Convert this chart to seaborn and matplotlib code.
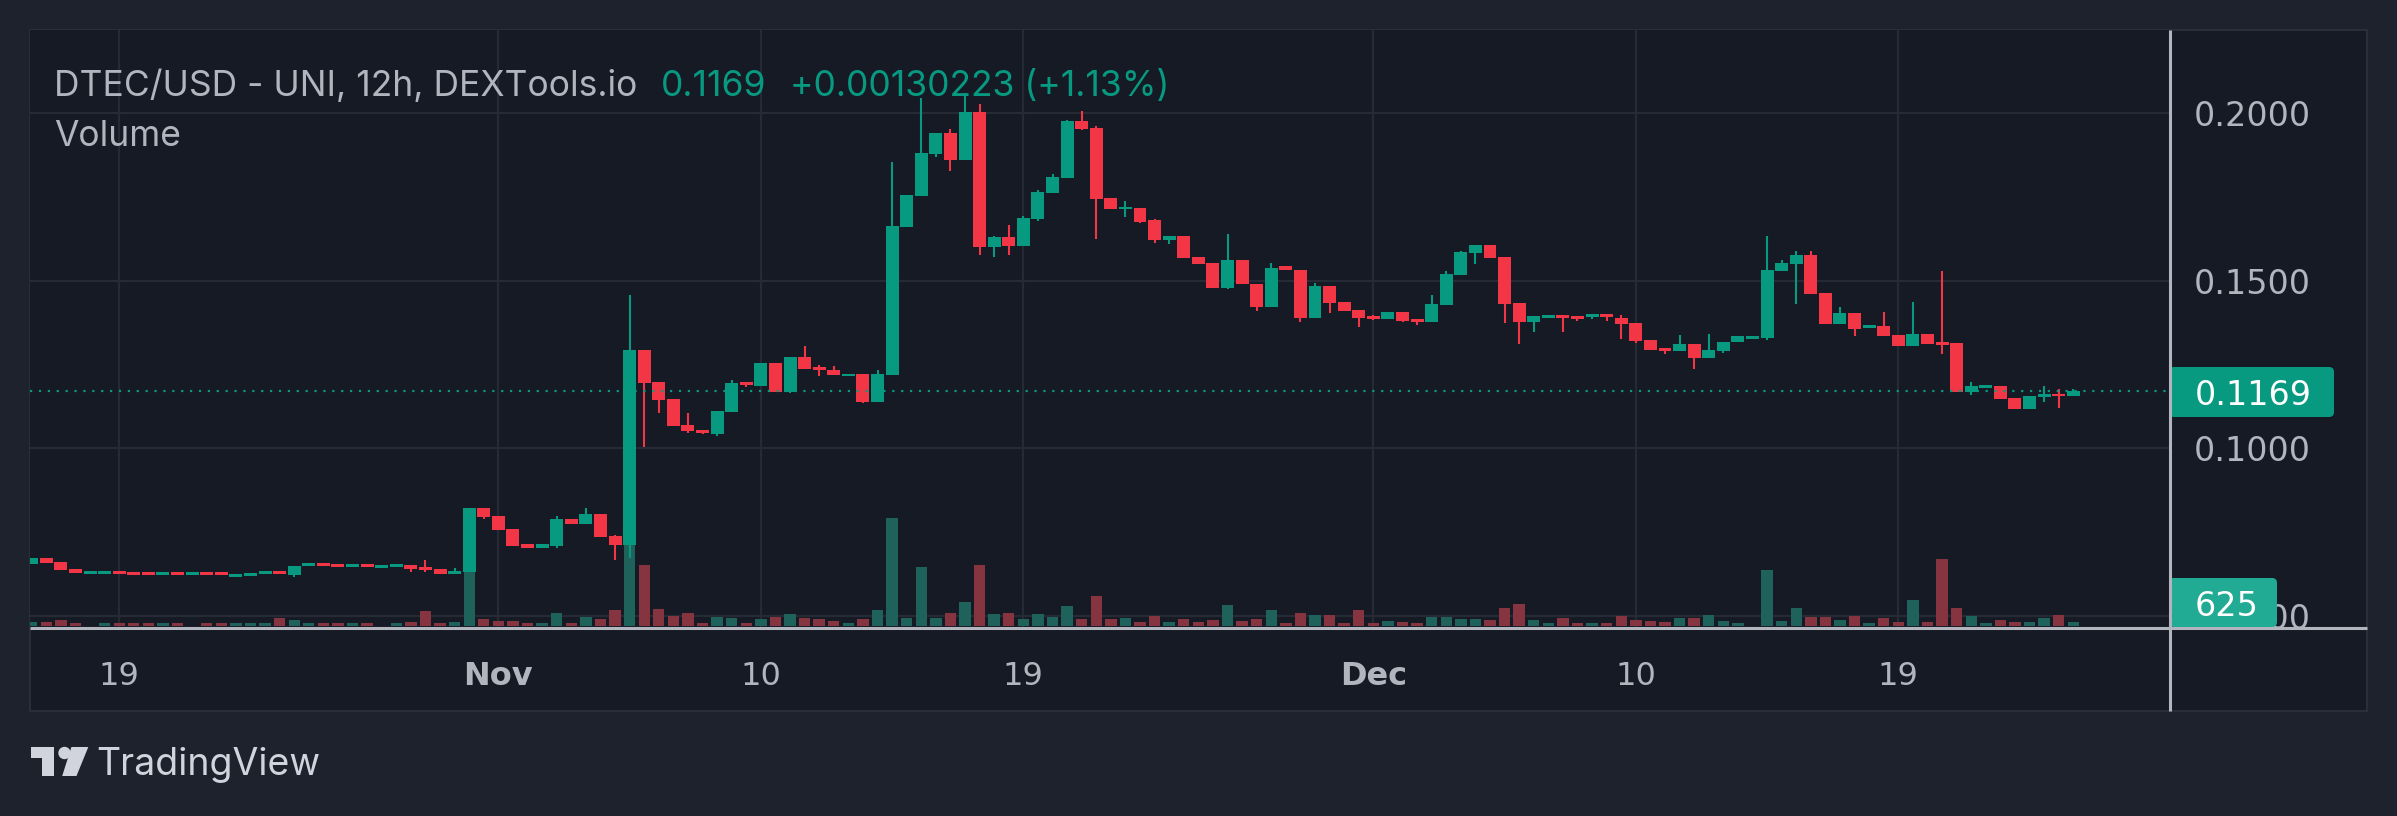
import numpy as np
import pandas as pd
import matplotlib
matplotlib.use("Agg")
import matplotlib.pyplot as plt
import matplotlib.patches as mpatches
import seaborn as sns

# ---------------- data (12h candles, DTEC/USD) ----------------
start = pd.Timestamp("2023-10-16 00:00")
opens = [0.0654, 0.0672, 0.0660, 0.0639, 0.0624, 0.0625, 0.0633, 0.0630, 0.0630, 0.0621,
         0.0630, 0.0621, 0.0630, 0.0630, 0.0615, 0.0618, 0.0624, 0.0633, 0.0621, 0.0648,
         0.0657, 0.0654, 0.0645, 0.0654, 0.0642, 0.0645, 0.0651, 0.0645, 0.0638, 0.0624,
         0.0631, 0.0821, 0.0797, 0.0758, 0.0712, 0.0703, 0.0706, 0.0787, 0.0773, 0.0803,
         0.0737, 0.0710, 0.1292, 0.1196, 0.1145, 0.1070, 0.1055, 0.1041, 0.1106, 0.1196,
         0.1185, 0.1253, 0.1168, 0.1271, 0.1241, 0.1233, 0.1215, 0.1220, 0.1136, 0.1217,
         0.1660, 0.1752, 0.1878, 0.1941, 0.1860, 0.2004, 0.1600, 0.1631, 0.1603, 0.1683,
         0.1761, 0.1806, 0.1977, 0.1956, 0.1745, 0.1712, 0.1715, 0.1680, 0.1621, 0.1634,
         0.1569, 0.1553, 0.1478, 0.1560, 0.1490, 0.1421, 0.1542, 0.1532, 0.1388, 0.1485,
         0.1436, 0.1412, 0.1394, 0.1386, 0.1407, 0.1386, 0.1376, 0.1428, 0.1517, 0.1581,
         0.1605, 0.1569, 0.1433, 0.1376, 0.1389, 0.1397, 0.1394, 0.1391, 0.1400, 0.1388,
         0.1373, 0.1322, 0.1298, 0.1289, 0.1310, 0.1268, 0.1289, 0.1315, 0.1326, 0.1329,
         0.1529, 0.1550, 0.1577, 0.1464, 0.1370, 0.1404, 0.1358, 0.1364, 0.1337, 0.1304,
         0.1340, 0.1315, 0.1313, 0.1166, 0.1178, 0.1184, 0.1148, 0.1115, 0.1152, 0.1162,
         0.1156]
highs = [0.0672, 0.0672, 0.0660, 0.0639, 0.0633, 0.0633, 0.0633, 0.0630, 0.0630, 0.0630,
         0.0630, 0.0630, 0.0630, 0.0630, 0.0624, 0.0627, 0.0633, 0.0633, 0.0648, 0.0657,
         0.0657, 0.0654, 0.0654, 0.0654, 0.0651, 0.0654, 0.0651, 0.0666, 0.0638, 0.0641,
         0.0821, 0.0821, 0.0797, 0.0758, 0.0712, 0.0712, 0.0797, 0.0787, 0.0821, 0.0803,
         0.0740, 0.1457, 0.1292, 0.1196, 0.1145, 0.1105, 0.1055, 0.1109, 0.1202, 0.1196,
         0.1253, 0.1253, 0.1271, 0.1305, 0.1247, 0.1245, 0.1222, 0.1220, 0.1232, 0.1854,
         0.1754, 0.2046, 0.1941, 0.1953, 0.2061, 0.2027, 0.1634, 0.1665, 0.1694, 0.1770,
         0.1818, 0.1980, 0.2007, 0.1962, 0.1745, 0.1737, 0.1715, 0.1684, 0.1634, 0.1634,
         0.1569, 0.1553, 0.1638, 0.1560, 0.1490, 0.1553, 0.1542, 0.1532, 0.1493, 0.1485,
         0.1436, 0.1412, 0.1397, 0.1407, 0.1407, 0.1386, 0.1457, 0.1527, 0.1587, 0.1605,
         0.1605, 0.1569, 0.1433, 0.1394, 0.1397, 0.1397, 0.1394, 0.1400, 0.1400, 0.1397,
         0.1373, 0.1322, 0.1298, 0.1338, 0.1310, 0.1341, 0.1317, 0.1333, 0.1334, 0.1634,
         0.1560, 0.1587, 0.1587, 0.1464, 0.1421, 0.1404, 0.1366, 0.1406, 0.1337, 0.1436,
         0.1340, 0.1529, 0.1313, 0.1198, 0.1187, 0.1184, 0.1148, 0.1154, 0.1184, 0.1177,
         0.1177]
lows = [0.0654, 0.0657, 0.0636, 0.0627, 0.0624, 0.0625, 0.0624, 0.0621, 0.0621, 0.0621,
        0.0621, 0.0621, 0.0621, 0.0621, 0.0615, 0.0618, 0.0624, 0.0624, 0.0615, 0.0648,
        0.0648, 0.0645, 0.0645, 0.0645, 0.0642, 0.0645, 0.0630, 0.0630, 0.0624, 0.0624,
        0.0631, 0.0788, 0.0754, 0.0706, 0.0703, 0.0703, 0.0703, 0.0773, 0.0773, 0.0734,
        0.0665, 0.0671, 0.1002, 0.1104, 0.1067, 0.1045, 0.1041, 0.1035, 0.1106, 0.1182,
        0.1185, 0.1168, 0.1164, 0.1236, 0.1215, 0.1218, 0.1215, 0.1133, 0.1136, 0.1217,
        0.1660, 0.1752, 0.1870, 0.1827, 0.1860, 0.1577, 0.1571, 0.1577, 0.1603, 0.1678,
        0.1761, 0.1806, 0.1949, 0.1623, 0.1712, 0.1689, 0.1671, 0.1613, 0.1608, 0.1566,
        0.1550, 0.1478, 0.1475, 0.1489, 0.1409, 0.1421, 0.1532, 0.1376, 0.1388, 0.1404,
        0.1409, 0.1361, 0.1383, 0.1386, 0.1376, 0.1368, 0.1376, 0.1428, 0.1517, 0.1548,
        0.1566, 0.1373, 0.1310, 0.1346, 0.1389, 0.1346, 0.1379, 0.1386, 0.1379, 0.1325,
        0.1313, 0.1292, 0.1280, 0.1289, 0.1235, 0.1268, 0.1283, 0.1315, 0.1326, 0.1322,
        0.1529, 0.1431, 0.1460, 0.1370, 0.1370, 0.1334, 0.1358, 0.1334, 0.1304, 0.1304,
        0.1310, 0.1280, 0.1166, 0.1157, 0.1178, 0.1145, 0.1115, 0.1115, 0.1138, 0.1120,
        0.1156]
closes = [0.0672, 0.0657, 0.0636, 0.0627, 0.0633, 0.0633, 0.0624, 0.0621, 0.0621, 0.0630,
          0.0621, 0.0630, 0.0621, 0.0621, 0.0624, 0.0627, 0.0633, 0.0624, 0.0648, 0.0657,
          0.0648, 0.0645, 0.0654, 0.0645, 0.0651, 0.0654, 0.0639, 0.0636, 0.0624, 0.0633,
          0.0821, 0.0793, 0.0754, 0.0706, 0.0703, 0.0712, 0.0787, 0.0773, 0.0803, 0.0734,
          0.0710, 0.1292, 0.1194, 0.1143, 0.1067, 0.1050, 0.1046, 0.1109, 0.1193, 0.1188,
          0.1253, 0.1168, 0.1271, 0.1236, 0.1233, 0.1218, 0.1222, 0.1136, 0.1220, 0.1662,
          0.1754, 0.1881, 0.1941, 0.1860, 0.2004, 0.1600, 0.1631, 0.1603, 0.1686, 0.1764,
          0.1809, 0.1977, 0.1953, 0.1743, 0.1712, 0.1718, 0.1676, 0.1620, 0.1634, 0.1566,
          0.1550, 0.1478, 0.1560, 0.1489, 0.1421, 0.1538, 0.1532, 0.1388, 0.1485, 0.1433,
          0.1409, 0.1388, 0.1386, 0.1407, 0.1379, 0.1377, 0.1430, 0.1520, 0.1584, 0.1605,
          0.1566, 0.1430, 0.1376, 0.1394, 0.1397, 0.1389, 0.1386, 0.1400, 0.1391, 0.1370,
          0.1319, 0.1292, 0.1289, 0.1310, 0.1268, 0.1292, 0.1317, 0.1333, 0.1334, 0.1532,
          0.1553, 0.1577, 0.1460, 0.1370, 0.1404, 0.1355, 0.1366, 0.1334, 0.1304, 0.1340,
          0.1310, 0.1307, 0.1166, 0.1184, 0.1187, 0.1145, 0.1115, 0.1154, 0.1160, 0.1156,
          0.1169]
volumes = [600, 600, 900, 450, 0, 450, 450, 450, 450, 450,
           450, 0, 450, 450, 450, 450, 450, 1200, 900, 450,
           450, 450, 450, 450, 0, 450, 600, 2250, 480, 625,
           8400, 1050, 800, 800, 480, 480, 1950, 480, 1350, 1050,
           2400, 12750, 9150, 2550, 1500, 1950, 480, 1350, 1200, 480,
           1050, 1350, 1800, 1200, 1050, 800, 480, 1050, 2400, 16200,
           1200, 8850, 1200, 1950, 3600, 9150, 1800, 1950, 1050, 1800,
           1350, 3000, 1050, 4500, 1050, 1200, 625, 1500, 625, 1050,
           625, 900, 3150, 800, 1050, 2400, 480, 1950, 1650, 1650,
           480, 2400, 480, 800, 625, 480, 1350, 1350, 1050, 1050,
           900, 2700, 3300, 900, 480, 1200, 480, 480, 480, 1500,
           900, 800, 625, 1200, 1200, 1650, 800, 480, 0, 8400,
           800, 2700, 1350, 1350, 900, 1500, 480, 1200, 625, 3900,
           625, 10050, 2700, 1500, 480, 900, 625, 625, 1200, 1650,
           625]

tick_dates = ["2023-10-19", "2023-11-01", "2023-11-10", "2023-11-19",
              "2023-12-01", "2023-12-10", "2023-12-19"]
tick_labels = ["19", "Nov", "10", "19", "Dec", "10", "19"]
price_ticks = [0.05, 0.10, 0.15, 0.20]
price_tick_labels = ["0.0500", "0.1000", "0.1500", "0.2000"]

title_text = "DTEC/USD - UNI, 12h, DEXTools.io"
last_price_text = "0.1169"
change_text = "+0.00130223 (+1.13%)"
last_price = 0.1169
last_volume_text = "625"

# ---------------- style ----------------
BG_OUT = "#1e222d"
BG_IN = "#161a25"
GRID = "#262a35"
TXT = "#b2b5be"
UP = "#089981"
DOWN = "#f23645"
VOL_UP = "#1e625b"
VOL_DOWN = "#863440"
AXLINE = "#b2b5be"
HEAD_FONT = ["Inter", "DejaVu Sans"]

sns.set_theme(style="dark")
plt.rcParams["font.family"] = ["DejaVu Sans"]

W, H = 2397, 816
fig = plt.figure(figsize=(W / 100, H / 100), dpi=100, facecolor=BG_OUT)


def frac_rect(x0, y0, x1, y1):
    return [x0 / W, 1 - y1 / H, (x1 - x0) / W, (y1 - y0) / H]


# background chart box
axb = fig.add_axes([0, 0, 1, 1], zorder=-5)
axb.set_xlim(0, W)
axb.set_ylim(H, 0)
axb.set_axis_off()
axb.add_patch(mpatches.Rectangle((30, 30), 2337, 681, facecolor=BG_IN,
                                 edgecolor="#2a2e39", lw=1.5))

PANE = frac_rect(30, 30, 2170, 628)
axg = fig.add_axes(PANE, zorder=0)
axv = fig.add_axes(PANE, zorder=1, sharex=axg)
ax = fig.add_axes(PANE, zorder=2, sharex=axg, sharey=axg)

times = start + pd.to_timedelta(np.arange(len(opens)) * 12, unit="h")
xs = ((times - start) / pd.Timedelta(hours=12)).to_numpy(dtype=float)
o = np.array(opens)
c = np.array(closes)
h = np.array(highs)
l = np.array(lows)
up = c >= o

# grid axes
axg.set_facecolor(BG_IN)
for s in axg.spines.values():
    s.set_visible(False)
tick_x = ((pd.to_datetime(tick_dates) - start) / pd.Timedelta(hours=12)).to_numpy(dtype=float)
ax.set_xticks(tick_x, labels=tick_labels)
ax.set_yticks(price_ticks, labels=price_tick_labels)
axg.grid(True, color=GRID, lw=1.6)
axg.tick_params(axis="both", which="both", length=0, labelleft=False,
                labelbottom=False, labelright=False)

# volume via seaborn
vol_df = pd.DataFrame({"x": xs, "volume": volumes,
                       "dir": np.where(up, "up", "down")})
sns.barplot(data=vol_df, x="x", y="volume", hue="dir",
            palette={"up": VOL_UP, "down": VOL_DOWN}, native_scale=True,
            width=0.78, dodge=False, errorbar=None, legend=False,
            saturation=1, linewidth=0, edgecolor="none", ax=axv)
axv.set_axis_off()
axv.set_ylim(-300, 89400)

# candles
colors = np.where(up, UP, DOWN)
ax.vlines(xs, l, h, colors=colors, lw=1.5, zorder=3)
body_bottom = np.minimum(o, c)
body_h = np.maximum(np.abs(c - o), 0.0003)
ax.bar(xs, body_h, bottom=body_bottom, width=0.89, color=colors,
       linewidth=0, zorder=4)
ax.axhline(last_price, color=UP, lw=1.6, ls=(0, (1, 3.0)), zorder=5)

ax.set_facecolor("none")
for s in ax.spines.values():
    s.set_visible(False)
ax.grid(False)
ax.yaxis.tick_right()
ax.tick_params(axis="y", length=0, pad=17, labelsize=24, labelcolor=TXT,
               labelright=True, labelleft=False)
ax.tick_params(axis="x", length=0, pad=24, labelsize=23, labelcolor=TXT)
for lab in ax.get_xticklabels():
    if lab.get_text() in ("Nov", "Dec"):
        lab.set_fontweight("bold")
ax.set_xlabel("")
ax.set_ylabel("")
axg.set_xlim(-0.117, 146.63)
axg.set_ylim(0.04627, 0.22478)

# front overlay: axis lines, badges, logo
axf = fig.add_axes([0, 0, 1, 1], zorder=10)
axf.set_xlim(0, W)
axf.set_ylim(H, 0)
axf.set_axis_off()
axf.plot([2170, 2170], [30, 711], color=AXLINE, lw=2.2, solid_capstyle="butt")
axf.plot([30, 2367], [628, 628], color=AXLINE, lw=2.2, solid_capstyle="butt")

axf.add_patch(mpatches.FancyBboxPatch((2169, 367), 165, 50,
                                      boxstyle="round,pad=0,rounding_size=5",
                                      facecolor=UP, edgecolor="none"))
axf.text(2195, 392, last_price_text, color="white", fontsize=24,
         va="center_baseline", ha="left")
axf.add_patch(mpatches.FancyBboxPatch((2169, 578), 108, 49,
                                      boxstyle="round,pad=0,rounding_size=5",
                                      facecolor="#22ab94", edgecolor="none"))
axf.text(2195, 603, last_volume_text, color="white", fontsize=24,
         va="center_baseline", ha="left")

# TradingView logo
LOGO = "#d1d4dc"
axf.add_patch(mpatches.Polygon([(30.6, 747), (53.6, 747), (53.6, 776), (41.8, 776),
                                (41.8, 758), (30.6, 758)], closed=True,
                               facecolor=LOGO, edgecolor="none"))
axf.add_patch(mpatches.Circle((64.5, 753), 6.2, facecolor=LOGO, edgecolor="none"))
axf.add_patch(mpatches.Polygon([(71.4, 747), (88.3, 747), (76.5, 776), (62.2, 776)],
                               closed=True, facecolor=LOGO, edgecolor="none"))
axf.text(96, 775, "TradingView", color=LOGO, fontsize=27, family=HEAD_FONT,
         va="baseline", ha="left")

# header texts
axf.text(54, 96, title_text, color=TXT, fontsize=25.5, family=HEAD_FONT,
         va="baseline", ha="left")
axf.text(661, 96, last_price_text, color=UP, fontsize=25.5, family=HEAD_FONT,
         va="baseline", ha="left")
axf.text(790, 96, change_text, color=UP, fontsize=25.5, family=HEAD_FONT,
         va="baseline", ha="left")
axf.text(54, 146, "Volume", color=TXT, fontsize=25.5, family=HEAD_FONT,
         va="baseline", ha="left")

fig.savefig("out.png", dpi=100, facecolor=BG_OUT)
